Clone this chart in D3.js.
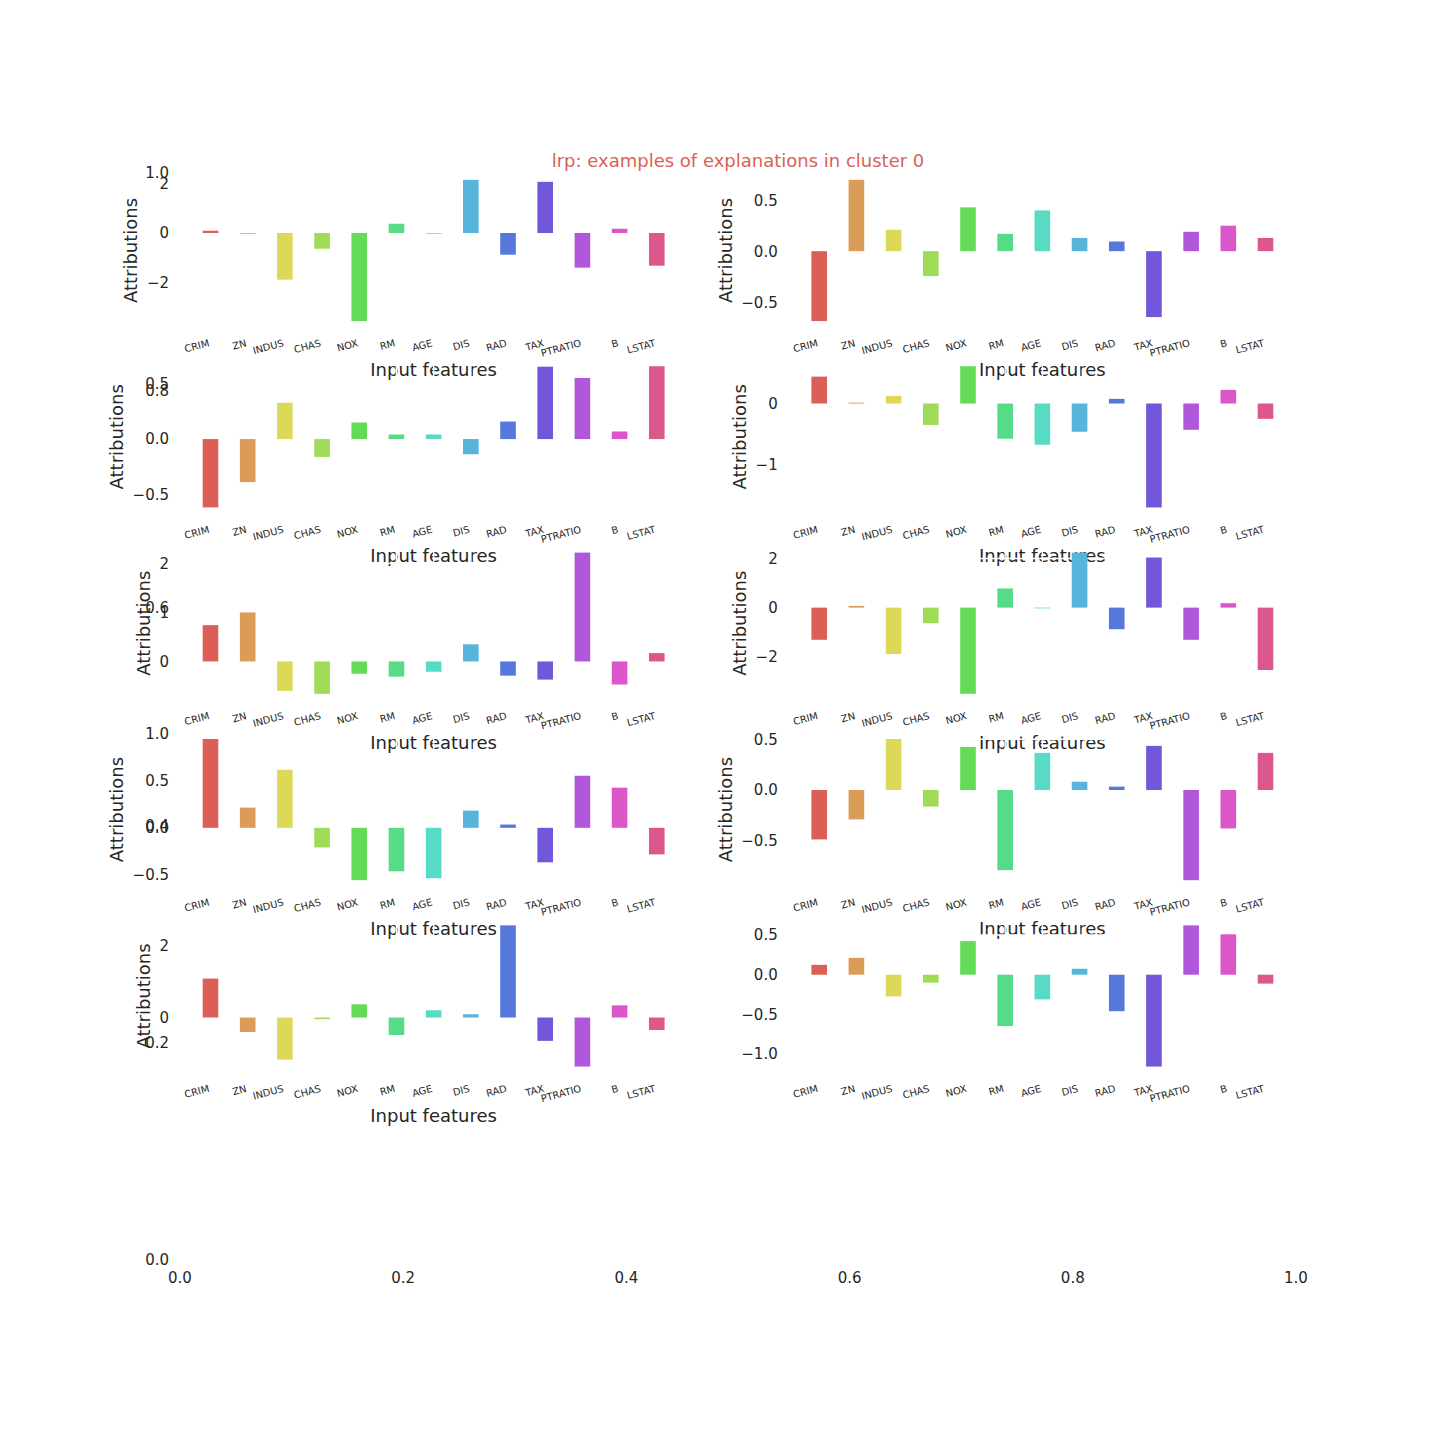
<!DOCTYPE html>
<html><head><meta charset="utf-8">
<script src="https://cdn.jsdelivr.net/npm/d3@7"></script>
<style>body{margin:0;background:#fff}</style>
</head><body><svg id="c" width="1440" height="1440" xmlns="http://www.w3.org/2000/svg"></svg>
<script>
// ---------------- data ----------------
const features = ["CRIM","ZN","INDUS","CHAS","NOX","RM","AGE","DIS","RAD","TAX","PTRATIO","B","LSTAT"];
const chartTitle = "lrp: examples of explanations in cluster 0";
const xLabelText = "Input features";
const yLabelText = "Attributions";

const example0 = [0.09, -0.03, -1.87, -0.63, -3.53, 0.37, -0.03, 2.13, -0.87, 2.05, -1.39, 0.17, -1.31];
const example1 = [-0.686, 0.70, 0.21, -0.245, 0.43, 0.17, 0.40, 0.13, 0.095, -0.647, 0.19, 0.25, 0.13];
const example2 = [-0.612, -0.385, 0.325, -0.16, 0.148, 0.041, 0.041, -0.136, 0.157, 0.648, 0.547, 0.068, 0.652];
const example3 = [0.44, 0.015, 0.125, -0.35, 0.61, -0.576, -0.674, -0.462, 0.076, -1.70, -0.43, 0.223, -0.25];
const example4 = [0.74, 1.0, -0.60, -0.66, -0.25, -0.31, -0.21, 0.35, -0.29, -0.37, 2.22, -0.47, 0.17];
const example5 = [-1.31, 0.07, -1.89, -0.635, -3.51, 0.78, -0.03, 2.24, -0.88, 2.04, -1.31, 0.18, -2.54];
const example6 = [0.94, 0.214, 0.614, -0.207, -0.554, -0.46, -0.533, 0.182, 0.035, -0.365, 0.551, 0.425, -0.281];
const example7 = [-0.487, -0.29, 0.503, -0.163, 0.425, -0.79, 0.366, 0.082, 0.033, 0.435, -0.889, -0.379, 0.366];
const example8 = [1.09, -0.405, -1.18, -0.046, 0.37, -0.49, 0.203, 0.092, 2.58, -0.654, -1.373, 0.341, -0.35];
const example9 = [0.124, 0.212, -0.274, -0.10, 0.423, -0.647, -0.311, 0.075, -0.46, -1.158, 0.622, 0.51, -0.112];

const yTicks0 = [-2, 0, 2];
const yTicks1 = [-0.5, 0.0, 0.5];
const yTicks2 = [-0.5, 0.0, 0.5];
const yTicks3 = [-1, 0];
const yTicks4 = [0, 1, 2];
const yTicks5 = [-2, 0, 2];
const yTicks6 = [-0.5, 0.0, 0.5, 1.0];
const yTicks7 = [-0.5, 0.0, 0.5];
const yTicks8 = [0, 2];
const yTicks9 = [-1.0, -0.5, 0.0, 0.5];

const bgTicks = [0.0, 0.2, 0.4, 0.6, 0.8, 1.0];

const examples = [example0, example1, example2, example3, example4, example5, example6, example7, example8, example9];
const yTicksAll = [yTicks0, yTicks1, yTicks2, yTicks3, yTicks4, yTicks5, yTicks6, yTicks7, yTicks8, yTicks9];

// ---------------- style / layout ----------------
const FONT = "DejaVu Sans, sans-serif";
const TXT = "#262626";
const svg = d3.select("#c");
svg.append("rect").attr("width",1440).attr("height",1440).attr("fill","#fff");

const W = 1440, H = 1440;
const figL = 0.125*W, figR = 0.9*W, figT = (1-0.88)*H, figB = (1-0.125)*H;
const nRows = 6, nCols = 2, hs = 0.2, ws = 0.2;
const cellW = (figR-figL)/(nCols + (nCols-1)*ws);
const cellH = (figB-figT)/(nRows + (nRows-1)*hs);

// seaborn hls palette (13 colours)
const palette = features.map((f,i)=>{
  let h = (i/features.length + 0.01) % 1;
  return d3.hsl(h*360, 0.65, 0.6).formatHex();
});

const fmtMinus = s => s.replace("-", "\u2212");

// ---------------- background axes ----------------
const bx = d3.scaleLinear().domain([0,1]).range([figL, figR]);
const by = d3.scaleLinear().domain([0,1]).range([figB, figT]);
const bg = svg.append("g");
bg.selectAll("text.by").data(bgTicks).join("text")
  .attr("x", figL-11).attr("y", d=>by(d)).attr("dy","0.36em")
  .attr("text-anchor","end").attr("font-family",FONT).attr("font-size",15).attr("fill",TXT)
  .text(d=>d3.format(".1f")(d));
bg.selectAll("text.bx").data(bgTicks).join("text")
  .attr("x", d=>bx(d)).attr("y", figB+11+11.5)
  .attr("text-anchor","middle").attr("font-family",FONT).attr("font-size",15).attr("fill",TXT)
  .text(d=>d3.format(".1f")(d));
svg.append("text").attr("x",(figL+figR)/2).attr("y",167)
  .attr("text-anchor","middle").attr("font-family",FONT).attr("font-size",18)
  .attr("fill",palette[0]).text(chartTitle);

// ---------------- panels ----------------
const BARW = 0.42;
const ang = -15*Math.PI/180;
const TICKFS = 9.9;

examples.forEach((vals, k)=>{
  const r = Math.floor(k/2), c = k%2;
  const left = figL + c*cellW*(1+ws);
  const top = figT + r*cellH*(1+hs);
  const right = left + cellW, bottom = top + cellH;
  const n = features.length;
  const dx0 = -0.2, dx1 = (n-1)+0.2, mx = (dx1-dx0)*0.05;
  const x = d3.scaleLinear().domain([dx0-mx, dx1+mx]).range([left, right]);
  const lo = Math.min(0, d3.min(vals)), hi = Math.max(0, d3.max(vals));
  const my = (hi-lo)*0.05;
  const y = d3.scaleLinear().domain([lo-my, hi+my]).range([bottom, top]);
  const ticks = yTicksAll[k];
  const dec = ticks.some(t=>Math.round(t)!==t) ? 1 : 0;
  const g = svg.append("g");

  // white grid (below bars)
  g.selectAll("line.gy").data(ticks).join("line")
    .attr("x1",left).attr("x2",right).attr("y1",d=>y(d)).attr("y2",d=>y(d))
    .attr("stroke","#fff").attr("stroke-width",1.4);
  g.selectAll("line.gx").data(features).join("line")
    .attr("x1",(d,i)=>x(i)).attr("x2",(d,i)=>x(i)).attr("y1",top).attr("y2",bottom)
    .attr("stroke","#fff").attr("stroke-width",1.4);

  // bars
  g.selectAll("rect.bar").data(vals).join("rect")
    .attr("x",(d,i)=>x(i-BARW/2)).attr("width",x(BARW)-x(0))
    .attr("y",d=>y(Math.max(0,d))).attr("height",d=>Math.abs(y(d)-y(0)))
    .attr("fill",(d,i)=>palette[i]);

  // y tick labels
  const yt = g.selectAll("text.yt").data(ticks).join("text")
    .attr("x", left-11).attr("y", d=>y(d)).attr("dy","0.36em")
    .attr("text-anchor","end").attr("font-family",FONT).attr("font-size",15).attr("fill",TXT)
    .text(d=>fmtMinus(d3.format("."+dec+"f")(d)));
  let minLeft = Infinity;
  yt.each(function(){ const w=this.getComputedTextLength(); minLeft=Math.min(minLeft,left-11-w); });

  // x tick labels, rotated 15deg, ha=right, va=top
  g.selectAll("text.xt").data(features).join("text")
    .attr("text-anchor","end").attr("font-family",FONT).attr("font-size",TICKFS).attr("fill",TXT)
    .text(d=>d)
    .each(function(d,i){
      const w = this.getComputedTextLength();
      const asc = 0.78*TICKFS, desc = 0.24*TICKFS;
      let maxX=-Infinity, minY=Infinity;
      [[-w,-asc],[0,-asc],[-w,desc],[0,desc]].forEach(([px,py])=>{
        const xr = px*Math.cos(ang) - py*Math.sin(ang);
        const yr = px*Math.sin(ang) + py*Math.cos(ang);
        maxX = Math.max(maxX,xr); minY = Math.min(minY,yr);
      });
      d3.select(this).attr("transform",`translate(${x(i)-maxX},${bottom+10.5-minY}) rotate(-15)`);
    });

  const isLast = (k === examples.length-1);
  if(!isLast){
    g.append("text").attr("x",(left+right)/2).attr("y",bottom+48)
      .attr("text-anchor","middle").attr("font-family",FONT).attr("font-size",18).attr("fill",TXT)
      .text(xLabelText);
    g.append("text").attr("transform",`translate(${minLeft-9.5},${(top+bottom)/2}) rotate(-90)`)
      .attr("text-anchor","middle").attr("font-family",FONT).attr("font-size",18).attr("fill",TXT)
      .text(yLabelText);
  }
});
</script>
</body></html>
